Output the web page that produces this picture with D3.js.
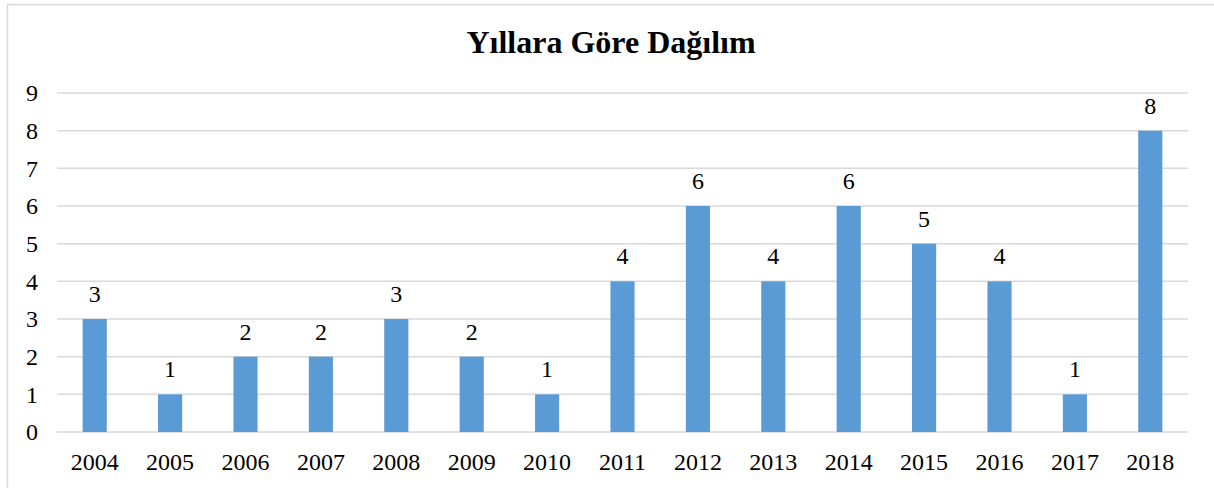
<!DOCTYPE html>
<html>
<head>
<meta charset="utf-8">
<script src="https://cdn.jsdelivr.net/npm/d3@7"></script>
<style>
  body { margin: 0; background: #fff; }
  svg text { font-family: "Liberation Serif", "Times New Roman", serif; }
</style>
</head>
<body>
<div id="chart"></div>
<script>
// Yıllara Göre Dağılım - bar chart

// data
var years = ['2004', '2005', '2006', '2007', '2008', '2009', '2010', '2011', '2012', '2013', '2014', '2015', '2016', '2017', '2018'];
var counts = [3, 1, 2, 2, 3, 2, 1, 4, 6, 4, 6, 5, 4, 1, 8];
var yTicks = [0, 1, 2, 3, 4, 5, 6, 7, 8, 9];
var title = 'Yıllara Göre Dağılım';

var width = 1214, height = 488;
var margin = {top: 93, right: 26, bottom: 56, left: 57};
var fontSize = 24;

var svg = d3.select('#chart').append('svg')
    .attr('width', width)
    .attr('height', height)
    .style('display', 'block');

// chart border (runs off the right and bottom edges)
svg.append('rect')
    .attr('x', 7.5).attr('y', 4.5)
    .attr('width', 1230).attr('height', 520)
    .attr('fill', 'none')
    .attr('stroke', '#d9d9d9')
    .attr('stroke-width', 1.5);

var x = d3.scaleBand()
    .domain(years)
    .range([margin.left, width - margin.right])
    .paddingInner(0.68)
    .paddingOuter(0.34);

var y = d3.scaleLinear()
    .domain([0, 9])
    .range([height - margin.bottom, margin.top]);

// gridlines
svg.append('g')
    .selectAll('line')
    .data(yTicks)
    .enter().append('line')
    .attr('x1', margin.left)
    .attr('x2', width - margin.right)
    .attr('y1', function(d) { return y(d); })
    .attr('y2', function(d) { return y(d); })
    .attr('stroke', '#d9d9d9')
    .attr('stroke-width', 1.5);

// y axis labels
var yAxis = d3.axisLeft(y).tickValues(yTicks).tickSize(0).tickPadding(0);
svg.append('g')
    .attr('transform', 'translate(38,0)')
    .call(yAxis)
    .call(function(g) { g.select('.domain').remove(); })
    .selectAll('text')
    .attr('font-size', fontSize)
    .attr('fill', '#000');

// x axis labels
var xAxis = d3.axisBottom(x).tickSize(0).tickPadding(0);
svg.append('g')
    .attr('transform', 'translate(0,' + (height - margin.bottom) + ')')
    .call(xAxis)
    .call(function(g) { g.select('.domain').remove(); })
    .selectAll('text')
    .attr('dy', null)
    .attr('y', 38)
    .attr('font-size', fontSize)
    .attr('fill', '#000');

// bars
svg.append('g')
    .selectAll('rect')
    .data(counts)
    .enter().append('rect')
    .attr('x', function(d, i) { return x(years[i]); })
    .attr('y', function(d) { return y(d); })
    .attr('width', x.bandwidth())
    .attr('height', function(d) { return y(0) - y(d); })
    .attr('fill', '#5b9bd5');

// value labels
svg.append('g')
    .selectAll('text')
    .data(counts)
    .enter().append('text')
    .attr('x', function(d, i) { return x(years[i]) + x.bandwidth() / 2; })
    .attr('y', function(d) { return y(d) - 17; })
    .attr('text-anchor', 'middle')
    .attr('font-size', fontSize)
    .attr('fill', '#000')
    .text(function(d) { return d; });

// title
svg.append('text')
    .attr('x', 611)
    .attr('y', 53)
    .attr('text-anchor', 'middle')
    .attr('font-size', 32)
    .attr('font-weight', 'bold')
    .attr('fill', '#000')
    .text(title);
</script>
</body>
</html>
